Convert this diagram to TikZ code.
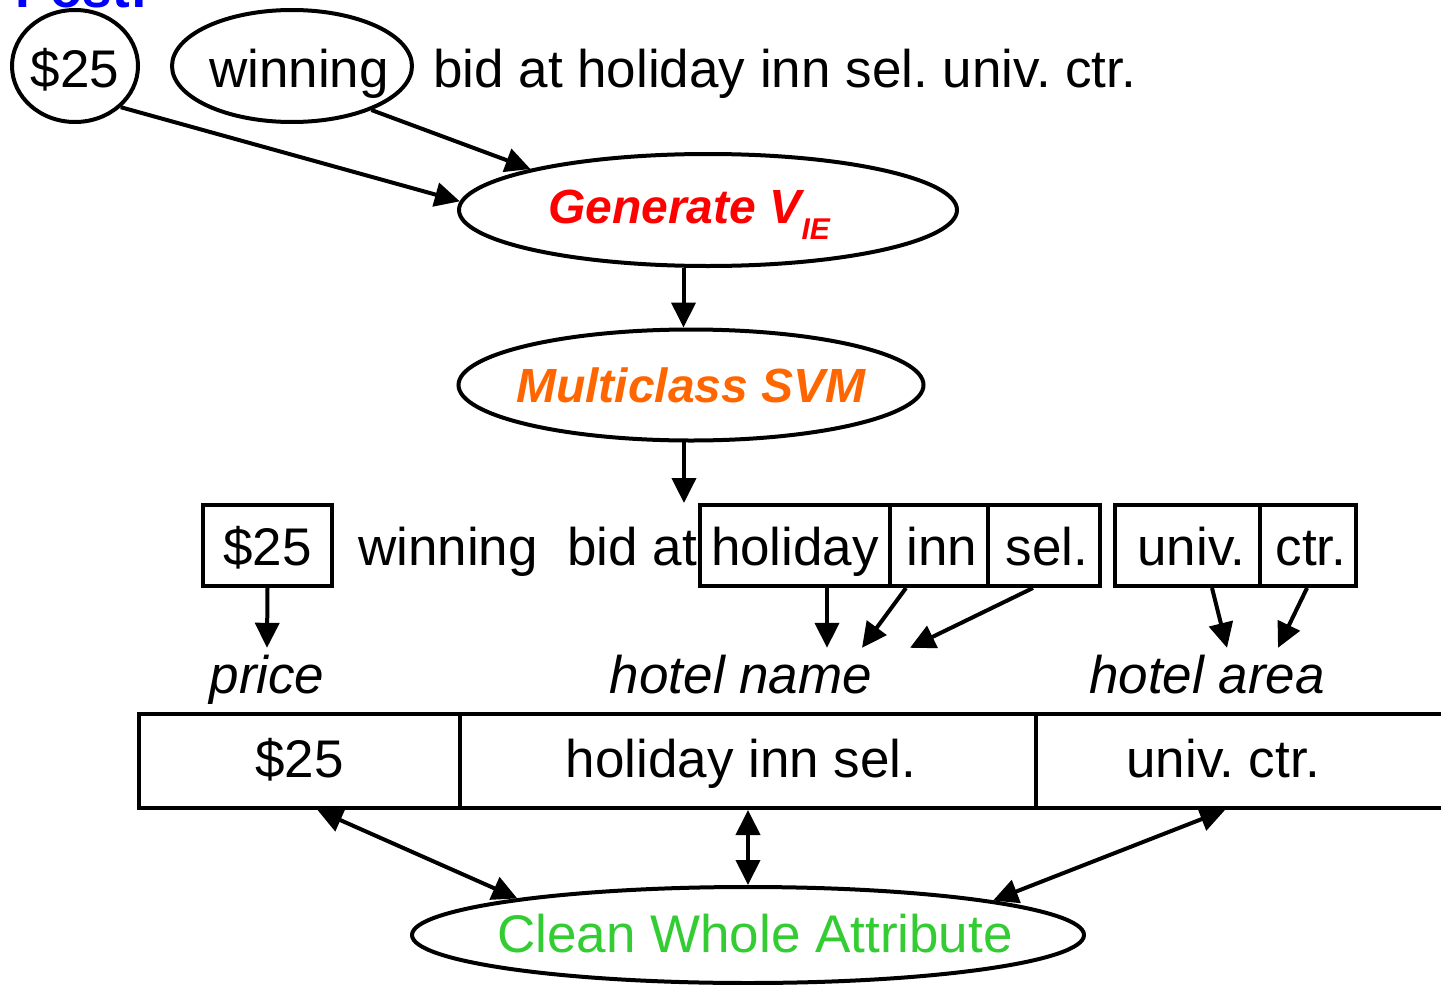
\documentclass[tikz,border=0pt]{standalone}
\usepackage{fontspec}
\setmainfont{Liberation Sans}
\usetikzlibrary{arrows.meta,shapes.geometric,calc}
\definecolor{postblue}{RGB}{0,0,255}
\definecolor{genred}{RGB}{255,0,0}
\definecolor{svmorange}{RGB}{255,102,0}
\definecolor{cleangreen}{RGB}{51,204,51}
\frenchspacing
\begin{document}
\begin{tikzpicture}[x=1pt,y=-1pt,
  every node/.style={inner sep=0pt, font=\fontsize{53}{62}\selectfont\frenchspacing},
  ell/.style={draw, ellipse, line width=4pt, text depth=0pt},
  bx/.style={draw, rectangle, line width=4pt, minimum height=81pt, text height=39pt, text depth=0pt},
  cell/.style={draw, rectangle, line width=4pt, minimum height=94pt, text height=32pt, text depth=0pt},
  lbl/.style={anchor=base, text height=45pt, text depth=0pt, font=\fontsize{53}{62}\selectfont\itshape},
  plain/.style={anchor=base west},
  arr/.style={line width=4pt, -{Triangle[length=25pt,width=24pt]}},
  darr/.style={line width=4pt, {Triangle[length=25pt,width=24pt]}-{Triangle[length=25pt,width=24pt]}},
  bolditem/.style={font=\fontsize{48}{56}\selectfont\bfseries\itshape}
]
\useasboundingbox (0,0) rectangle (1441,985);

% title (cut off at top, as in the reference)
\node[anchor=base west, font=\fontsize{53}{62}\selectfont\bfseries, text=postblue] (post) at (15,7) {Post:};

% top row
\node[ell, minimum width=126pt, minimum height=112pt, text height=42pt] (c25) at (75,66) {\makebox[0pt]{\$25}};
\node[ell, minimum width=240pt, minimum height=112pt, text height=42pt] (win) at (292,66) {\makebox[0pt]{\hspace*{14pt}winning}};
\node[plain] (bidtxt) at (433,87) {bid at holiday inn sel. univ. ctr.};

% processing ellipses
\node[ell, minimum width=498pt, minimum height=112pt, text height=26pt, bolditem, text=genred] (gen) at (708,210)
  {\makebox[0pt]{Generate V\raisebox{-16pt}{\fontsize{30}{30}\selectfont IE}\hspace*{38pt}}};
\node[ell, minimum width=465pt, minimum height=111pt, text height=34pt, bolditem, text=svmorange] (mc) at (691,385)
  {\makebox[0pt]{Multiclass SVM}};

\draw[arr] (c25.-42) -- (gen.178);
\draw[arr] (win.-29) -- (gen.167);
\draw[arr] (gen.-113) -- (gen.-113 |- mc.north);

% second row
\node[bx, minimum width=129pt] (b25) at (267.5,545.5) {\$25};
\node[plain] (wintxt) at (358,565) {winning};
\node[plain] (bidat) at (567,565) {bid at};
\node[bx, minimum width=190pt] (hol) at (795,545.5) {holiday};
\node[bx, minimum width=98pt] (inn) at (939,545.5) {\hspace*{6pt}inn};
\node[bx, minimum width=112pt] (sel) at (1044,545.5) {\hspace*{6pt}sel.};
\node[bx, minimum width=145pt] (univ) at (1187.5,545.5) {\hspace*{8pt}univ.};
\node[bx, minimum width=96pt] (ctr) at (1308,545.5) {\hspace*{6pt}ctr.};

\draw[arr] (mc.-97) -- (mc.-97 |- hol.north);

% labels
\node[lbl] (price) at (267,693) {price};
\node[lbl] (hname) at (741,693) {hotel name};
\node[lbl] (harea) at (1207,693) {hotel area};

\draw[arr] (b25.south) -- (price.north);
\draw[arr] ([xshift=32pt]hol.south) -- ([xshift=86pt]hname.north);
\draw[arr] ([xshift=-33pt]inn.south) -- ([xshift=121pt]hname.north);
\draw[arr] ([xshift=-11pt]sel.south) -- ([xshift=169pt]hname.north);
\draw[arr] ([xshift=24.5pt]univ.south) -- ([xshift=20pt]harea.north);
\draw[arr] ([xshift=-1pt]ctr.south) -- ([xshift=71pt]harea.north);

% table
\node[cell, minimum width=321pt] (t1) at (299.5,761) {\$25};
\node[cell, minimum width=576pt] (t2) at (748,761) {\hspace*{-14pt}holiday inn sel.};
\node[cell, minimum width=430pt] (t3) at (1251,761) {univ. ctr.\hspace*{56pt}};

% clean
\node[ell, minimum width=672pt, minimum height=96pt, text height=34pt, text=cleangreen] (clean) at (748,935)
  {\makebox[0pt]{\hspace*{14pt}Clean Whole Attribute}};

\draw[darr] ([xshift=18pt]t1.south) -- (clean.171);
\draw[darr] (t2.south) -- (clean.north);
\draw[darr] ([xshift=-26pt]t3.south) -- (clean.8);
\end{tikzpicture}
\end{document}
